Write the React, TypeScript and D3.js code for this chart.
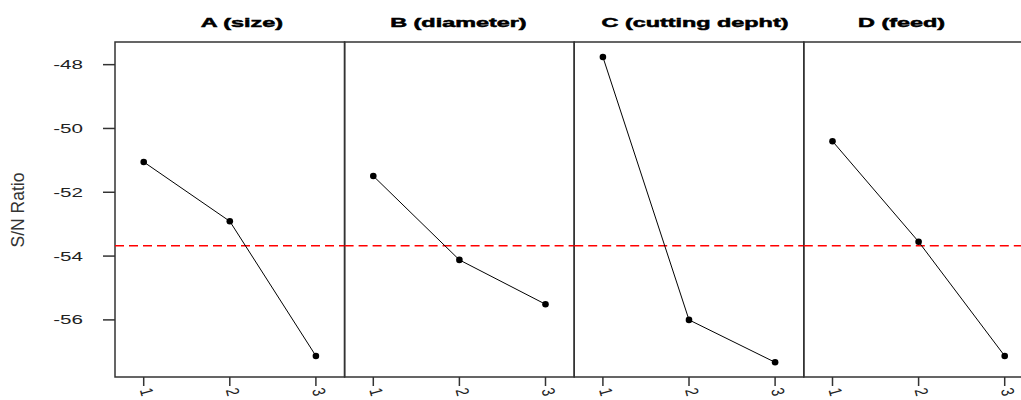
import React from "react";
import * as d3 from "d3";

// factor titles and levels
const factors = ["A (size)", "B (diameter)", "C (cutting depht)", "D (feed)"];
const levels = [1, 2, 3];

// S/N ratio per level, one array per factor
const snA = [-51.05, -52.91, -57.13];
const snB = [-51.49, -54.12, -55.51];
const snC = [-47.76, -56.0, -57.33];
const snD = [-50.4, -53.55, -57.13];
const series = [snA, snB, snC, snD];

const meanSN = -53.68;
const yTicks = [-48, -50, -52, -54, -56];

const width = 1021;
const height = 400;
const left = 115;
const top = 42;
const bottom = 377;
const panelW = 229.6;
// the titles are not quite centred in the original
const titleShift = [12, -1, 6, -17];

const App = () => {
    const yScale = d3.scaleLinear()
        .domain([-57.79, -47.29])
        .range([bottom, top]);

    const font = "'Liberation Sans', Arial, sans-serif";

    return (
        <svg width={width} height={height} style={{ position: "absolute", left: 0, top: 0, background: "#fff" }}>
            {/* y axis label */}
            <text
                transform={`translate(24, 210) rotate(-90)`}
                textAnchor="middle"
                fontFamily={font}
                fontSize={17.5}
                fill="#333"
            >
                S/N Ratio
            </text>

            {/* y ticks */}
            {yTicks.map((t) => (
                <g key={t}>
                    <line x1={103} x2={left} y1={yScale(t)} y2={yScale(t)} stroke="#333" strokeWidth={1.5} />
                    <text
                        transform={`translate(83, ${yScale(t)}) scale(1.65, 1)`}
                        dy="0.36em"
                        textAnchor="end"
                        fontFamily={font}
                        fontSize={12.5}
                        fill="#222"
                    >
                        {t}
                    </text>
                </g>
            ))}

            {factors.map((name, i) => {
                const x0 = left + i * panelW;
                const xScale = d3.scaleLinear()
                    .domain([2 / 3, 10 / 3])
                    .range([x0, x0 + panelW]);
                const line = d3.line<number>()
                    .x((_, j) => xScale(levels[j]))
                    .y((d) => yScale(d));
                return (
                    <g key={name}>
                        <text
                            transform={`translate(${x0 + panelW / 2 + titleShift[i]}, 27) scale(1.8, 1)`}
                            textAnchor="middle"
                            fontFamily={font}
                            fontWeight="bold"
                            fontSize={13}
                            fill="#000"
                            stroke="#000"
                            strokeWidth={0.5}
                        >
                            {name}
                        </text>
                        <rect x={x0} y={top} width={panelW} height={bottom - top} fill="none" stroke="#333" strokeWidth={1.5} />
                        <line
                            x1={x0}
                            x2={x0 + panelW}
                            y1={yScale(meanSN)}
                            y2={yScale(meanSN)}
                            stroke="#ff0000"
                            strokeWidth={1.5}
                            strokeDasharray="9,5"
                        />
                        <path d={line(series[i]) || ""} fill="none" stroke="#000" strokeWidth={1} />
                        {series[i].map((v, j) => (
                            <circle key={j} cx={xScale(levels[j])} cy={yScale(v)} r={3.3} fill="#000" />
                        ))}
                        {levels.map((l) => (
                            <g key={l}>
                                <line x1={xScale(l)} x2={xScale(l)} y1={bottom} y2={bottom + 9} stroke="#333" strokeWidth={1.5} />
                                <text
                                    transform={`translate(${xScale(l) - 4}, ${bottom + 13}) rotate(75) scale(1, 1.4)`}
                                    fontFamily={font}
                                    fontSize={13}
                                    fill="#222"
                                >
                                    {l}
                                </text>
                            </g>
                        ))}
                    </g>
                );
            })}
        </svg>
    );
};

export default App;
